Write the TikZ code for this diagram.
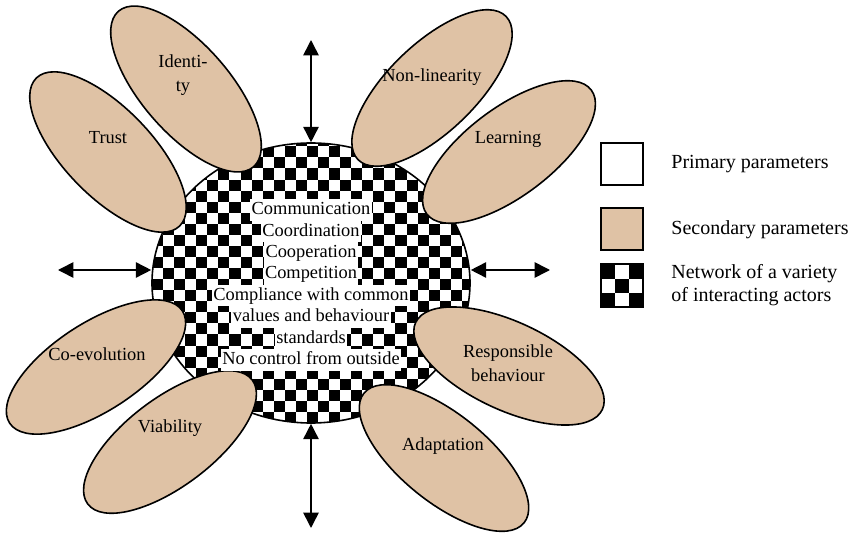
\documentclass[tikz,border=0pt]{standalone}
\usepackage{fontspec}
\setmainfont{Liberation Serif}
\usetikzlibrary{shapes.geometric, arrows.meta, positioning}

\definecolor{petaltan}{RGB}{223,194,165}

\begin{document}
\begin{tikzpicture}[
    x=0.75pt, y=0.75pt,
    network/.style={ellipse, minimum width=238.5pt, minimum height=210pt, inner sep=0pt, draw=black, line width=1.2pt, fill=white,
        path picture={
            \foreach \i [evaluate=\i as \off using {int(mod(\i,2))}] in {0,...,29}
                \foreach \j in {0,...,13}
                    \fill[black] ([xshift=\i*8.3pt, yshift=(2*\j+\off)*8.3pt]path picture bounding box.south west) rectangle ++(8.3pt,8.3pt);
        }},
    petal/.style={ellipse, minimum width=154.5pt, minimum height=66pt, inner sep=0pt, draw=black, line width=1.2pt, fill=petaltan},
    lbl/.style={font=\fontsize{13.8}{18}\selectfont, align=center},
    netline/.style={fill=white, font=\fontsize{13.8}{16}\selectfont, text height=11pt, text depth=4pt, inner xsep=1pt, inner ysep=0.6pt},
    keybox/.style={rectangle, minimum size=31.5pt, inner sep=0pt, draw=black, line width=1.5pt},
    keytxt/.style={font=\fontsize{15}{17.3}\selectfont, align=left, anchor=west},
    dblarrow/.style={<->, >={Triangle[length=11.5pt, width=11.5pt]}, line width=1.2pt}
]
    \useasboundingbox (0,0) rectangle (854,533);

    % Network of actors
    \node[network] (actors) at (311,250) {};

    % Arrows out of the network
    \coordinate (topend) at (311,493);
    \coordinate (botend) at (311,5);
    \coordinate (leftend) at (58,263);
    \coordinate (rightend) at (550,263);
    \draw[dblarrow] (topend) -- (actors.north);
    \draw[dblarrow] (botend) -- (actors.south);
    \draw[dblarrow] (leftend) -- (actors.west |- leftend);
    \draw[dblarrow] (rightend) -- (actors.east |- rightend);

    % Secondary parameters
    \node[petal, rotate=-46] (trust) at (108,381) {};
    \node[petal, rotate=-49] (identity) at (186,444) {};
    \node[petal, rotate=44] (nonlin) at (432,445) {};
    \node[petal, rotate=37] (learning) at (509,381) {};
    \node[petal, rotate=33] (coevol) at (96,166) {};
    \node[petal, rotate=37] (viab) at (170,91) {};
    \node[petal, rotate=-25] (respons) at (509,167) {};
    \node[petal, rotate=-39] (adapt) at (444,75) {};

    \node[lbl] (trusttxt) at (108,395) {Trust};
    \node[lbl] (identitytxt) at (183,458) {Identi-\\ty};
    \node[lbl] (nonlintxt) at (432,456) {Non-linearity};
    \node[lbl] (learningtxt) at (508,394) {Learning};
    \node[lbl] (coevoltxt) at (97,179) {Co-evolution};
    \node[lbl] (viabtxt) at (170,105) {Viability};
    \node[lbl] (responstxt) at (508,170) {Responsible\\behaviour};
    \node[lbl] (adapttxt) at (443,87) {Adaptation};

    % Primary parameters
    \foreach \txt [count=\k] in {Communication, Coordination, Cooperation, Competition, Compliance with common, values and behaviour, standards, No control from outside}
        \node[netline] (line\k) at (311,{323-(\k-1)*21.4}) {\txt};

    % Legend
    \node[keybox, fill=white] (keyprim) at (622,368.5) {};
    \node[keybox, fill=petaltan, below=15.75pt of keyprim] (keysec) {};
    \node[keybox, fill=white, below=9pt of keysec,
        path picture={
            \foreach \a/\b in {0/0, 2/0, 1/1, 0/2, 2/2}
                \fill[black] ([xshift=\a*10.5pt, yshift=\b*10.5pt]path picture bounding box.south west) rectangle ++(10.5pt,10.5pt);
        }] (keynet) {};

    \node[keytxt, right=17pt of keyprim] (keyprimtxt) {Primary parameters};
    \node[keytxt, right=17pt of keysec] (keysectxt) {Secondary parameters};
    \node[keytxt, right=17pt of keynet] (keynettxt) {Network of a variety\\of interacting actors};

\end{tikzpicture}
\end{document}
